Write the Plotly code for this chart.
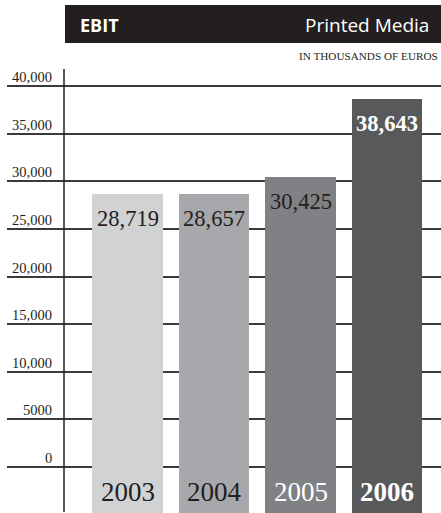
import plotly.graph_objects as go

# EBIT, Printed Media, in thousands of euros
years = ["2003", "2004", "2005", "2006"]
ebit = [28719, 28657, 30425, 38643]
value_labels = ["28,719", "28,657", "30,425", "38,643"]
tick_values = [0, 5000, 10000, 15000, 20000, 25000, 30000, 35000, 40000]
tick_labels = ["0", "5000", "10,000", "15,000", "20,000", "25,000", "30,000", "35,000", "40,000"]

bar_colors = ["#d1d2d4", "#a7a8ab", "#808184", "#58595b"]
label_colors = ["#231f20", "#231f20", "#231f20", "#ffffff"]
year_colors = ["#231f20", "#231f20", "#ffffff", "#ffffff"]
bold_flags = [False, False, False, True]
year_bold = [False, False, False, True]

W, H = 441, 513
ML, MR, MT, MB = 7, 0, 68, 0
PW, PH = W - ML - MR, H - MT - MB
BAR_BASE = -5000
Y_RANGE = [-4832, 41912]


def px_x(px):
    return (px - ML) / PW


def px_y(py):
    return (H - MB - py) / PH


serif = "Liberation Serif, Times New Roman, serif"
sans = "Open Sans, DejaVu Sans, sans-serif"

fig = go.Figure()
fig.add_trace(go.Bar(
    x=years,
    y=[v - BAR_BASE for v in ebit],
    base=[BAR_BASE] * len(ebit),
    width=0.82,
    marker=dict(color=bar_colors, line=dict(width=0)),
    hoverinfo="skip",
))

annotations = []
# value labels inside the top of each bar
for i, (v, lab, col, b) in enumerate(zip(ebit, value_labels, label_colors, bold_flags)):
    annotations.append(dict(
        x=i, y=v, xref="x", yref="y", text=f"<b>{lab}</b>" if b else lab,
        showarrow=False, yanchor="top", xanchor="center", yshift=-10,
        font=dict(family=serif, size=22.5, color=col),
    ))
# year labels at the foot of each bar
for i, (yr, col, b) in enumerate(zip(years, year_colors, year_bold)):
    annotations.append(dict(
        x=i, y=px_y(492), xref="x", yref="paper", text=f"<b>{yr}</b>" if b else yr,
        showarrow=False, yanchor="middle", xanchor="center",
        font=dict(family=serif, size=27, color=col),
    ))
# y tick labels sitting above their gridlines
for tv, tl in zip(tick_values, tick_labels):
    annotations.append(dict(
        x=px_x(54), y=tv, xref="paper", yref="y", text=tl,
        showarrow=False, yanchor="bottom", xanchor="right", yshift=-1,
        font=dict(family=serif, size=14.5, color="#231f20"),
    ))
# header texts
annotations.append(dict(
    x=px_x(78), y=px_y(25), xref="paper", yref="paper", text="<b>EBIT</b>",
    showarrow=False, xanchor="left", yanchor="middle",
    font=dict(family=sans, size=18, color="#ffffff", weight=800),
))
annotations.append(dict(
    x=px_x(431), y=px_y(24.5), xref="paper", yref="paper", text="Printed Media",
    showarrow=False, xanchor="right", yanchor="middle",
    font=dict(family=sans, size=19, color="#ffffff"),
))
annotations.append(dict(
    x=px_x(440), y=px_y(56), xref="paper", yref="paper", text="IN THOUSANDS OF EUROS",
    showarrow=False, xanchor="right", yanchor="middle",
    font=dict(family=serif, size=11.2, color="#231f20"),
))

shapes = [
    # black title band
    dict(type="rect", xref="paper", yref="paper",
         x0=px_x(65), x1=px_x(445), y0=px_y(43), y1=px_y(5),
         fillcolor="#231f20", line=dict(width=0), layer="above"),
    # vertical value axis
    dict(type="line", xref="paper", yref="paper",
         x0=px_x(64), x1=px_x(64), y0=px_y(512), y1=px_y(69),
         line=dict(color="#231f20", width=1.5), layer="above"),
]

fig.update_layout(
    width=W, height=H,
    margin=dict(l=ML, r=MR, t=MT, b=MB, pad=0),
    paper_bgcolor="#ffffff", plot_bgcolor="#ffffff",
    showlegend=False,
    bargap=0,
    xaxis=dict(type="category", range=[-1.393, 3.624], showgrid=False, zeroline=False,
               showticklabels=False, showline=False, fixedrange=True),
    yaxis=dict(range=Y_RANGE, tickmode="array", tickvals=tick_values,
               showgrid=True, gridcolor="#3a3a3a", gridwidth=1.5,
               zeroline=False, showticklabels=False, showline=False, fixedrange=True),
    annotations=annotations,
    shapes=shapes,
)

fig.write_html("out.html", config={"displayModeBar": False})
